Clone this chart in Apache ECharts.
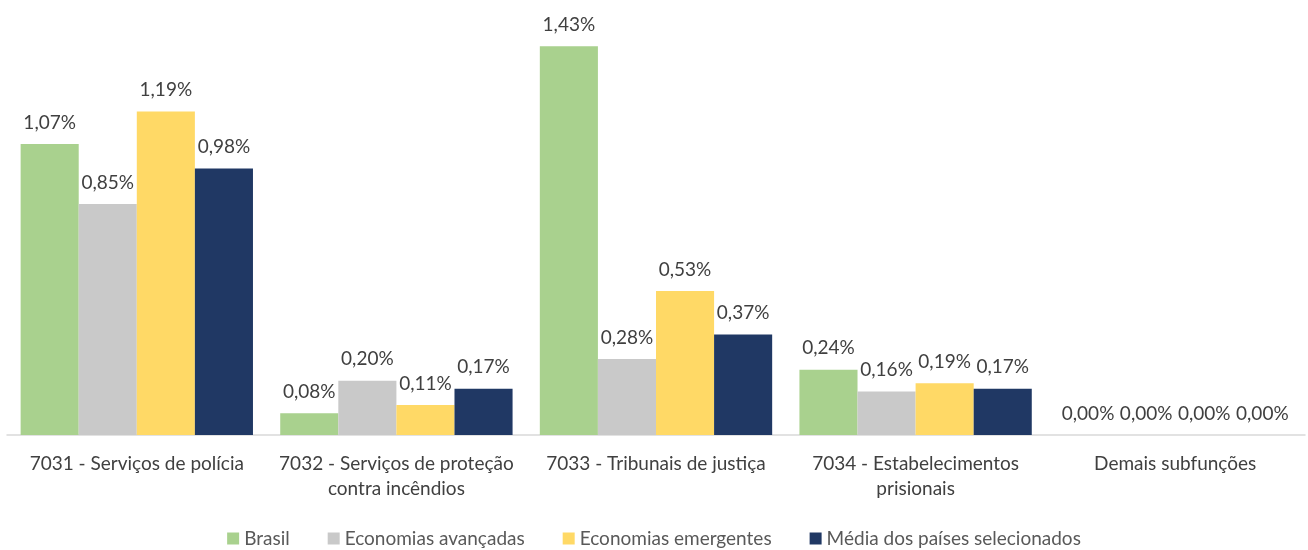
<!DOCTYPE html>
<html>
<head>
<meta charset="utf-8">
<script src="https://cdn.jsdelivr.net/npm/echarts@6/dist/echarts.min.js"></script>
<style>
  html, body { margin: 0; padding: 0; background: #fff; }
  #chart { width: 1308px; height: 550px; }
</style>
</head>
<body>
<div id="chart"></div>
<script>
var categories = [
  '7031 - Serviços de polícia',
  '7032 - Serviços de proteção\ncontra incêndios',
  '7033 - Tribunais de justiça',
  '7034 - Estabelecimentos\nprisionais',
  'Demais subfunções'
];
var brasil = [1.07, 0.08, 1.43, 0.24, 0.00];
var avancadas = [0.85, 0.20, 0.28, 0.16, 0.00];
var emergentes = [1.19, 0.11, 0.53, 0.19, 0.00];
var media = [0.98, 0.17, 0.37, 0.17, 0.00];

var FONT = 'Lato, "Open Sans", sans-serif';
var FS = 19;

function pct(p) {
  return p.value.toFixed(2).replace('.', ',') + '%';
}

function bar(name, data, color) {
  return {
    name: name,
    type: 'bar',
    data: data,
    barGap: '0%',
    barCategoryGap: '10.5%',
    itemStyle: { color: color },
    label: {
      show: true,
      position: 'top',
      distance: 12,
      formatter: pct,
      color: '#404040',
      fontSize: FS,
      fontFamily: FONT
    }
  };
}

var chart = echarts.init(document.getElementById('chart'));
chart.setOption({
  animation: false,
  grid: { left: 7, right: 3, top: 0, bottom: 115 },
  legend: {
    bottom: -3,
    left: 'center',
    icon: 'rect',
    itemWidth: 12,
    itemHeight: 12,
    itemGap: 38,
    textStyle: { color: '#595959', fontSize: FS, fontFamily: FONT }
  },
  xAxis: {
    type: 'category',
    data: categories,
    axisLine: { lineStyle: { color: '#d9d9d9', width: 1.5 } },
    axisTick: { show: false },
    axisLabel: {
      color: '#404040',
      fontSize: FS,
      fontFamily: FONT,
      lineHeight: 25,
      margin: 16,
      interval: 0
    }
  },
  yAxis: {
    type: 'value',
    min: 0,
    max: 1.6,
    show: false,
    splitLine: { show: false }
  },
  series: [
    bar('Brasil', brasil, '#a9d18e'),
    bar('Economias avançadas', avancadas, '#c9c9c9'),
    bar('Economias emergentes', emergentes, '#ffd966'),
    bar('Média dos países selecionados', media, '#203864')
  ]
});
</script>
</body>
</html>
